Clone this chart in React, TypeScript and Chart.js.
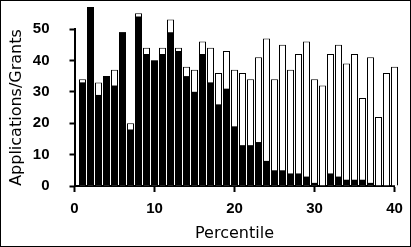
import { useEffect, useRef } from "react";
import { Chart, registerables } from "chart.js";

Chart.register(...registerables);

const percentiles = [
  1, 2, 3, 4, 5, 6, 7, 8, 9, 10, 11, 12, 13, 14, 15, 16, 17, 18, 19, 20,
  21, 22, 23, 24, 25, 26, 27, 28, 29, 30, 31, 32, 33, 34, 35, 36, 37, 38, 39, 40,
];
const applications = [
  34, 57, 33, 35, 37, 49, 20, 55, 44, 40, 44, 53, 44, 38, 37, 46, 44, 36, 43, 37,
  36, 34, 41, 47, 34, 45, 37, 42, 46, 34, 32, 42, 45, 39, 42, 28, 41, 22, 36, 38,
];
const grants = [
  33, 57, 29, 35, 32, 49, 18, 54, 42, 40, 42, 49, 43, 35, 30, 42, 33, 26, 31, 19,
  13, 13, 14, 8, 5, 5, 4, 4, 3, 1, 0, 4, 3, 2, 2, 2, 1, 0, 0, 0,
];
const xTicks = [0, 10, 20, 30, 40];
const yTicks = [0, 10, 20, 30, 40, 50];
const xTitle = "Percentile";
const yTitle = "Applications/Grants";

const framePlugin = {
  id: "frame",
  afterDraw(chart: any) {
    const ctx = chart.ctx;
    ctx.save();
    ctx.strokeStyle = "#000";
    ctx.lineWidth = 1;
    ctx.strokeRect(0.5, 0.5, chart.width - 1, chart.height - 1);
    ctx.restore();
  },
};

export default function App() {
  const ref = useRef<HTMLCanvasElement | null>(null);

  useEffect(() => {
    document.body.style.margin = "0";
    const canvas = ref.current;
    if (!canvas) return;
    const tickFont = { family: "'Liberation Sans', Arial, sans-serif", size: 15, weight: "bold" as const };
    const titleFont = { family: "'DejaVu Sans', sans-serif", size: 16, weight: "normal" as const };
    const chart = new Chart(canvas, {
      type: "bar",
      data: {
        datasets: [
          {
            label: "Grants",
            data: percentiles.map((p, i) => ({ x: p, y: grants[i] })),
            backgroundColor: "#000",
            borderColor: "#000",
            borderWidth: 0,
            inflateAmount: 0,
            barThickness: 7,
            grouped: false,
            clip: false as any,
          },
          {
            label: "Applications",
            data: percentiles.map((p, i) => ({ x: p, y: applications[i] })),
            backgroundColor: "#fff",
            borderColor: "#000",
            borderWidth: 1,
            inflateAmount: 0,
            barThickness: 7,
            grouped: false,
            clip: false as any,
          },
        ],
      },
      options: {
        animation: false,
        responsive: false,
        maintainAspectRatio: false,
        layout: { padding: { left: 0, right: 16.5, top: 26, bottom: 0 } },
        plugins: { legend: { display: false }, tooltip: { enabled: false } },
        scales: {
          x: {
            type: "linear",
            min: 0,
            max: 40,
            offset: false,
            afterFit: (s: any) => {
              s.height = 61;
            },
            afterBuildTicks: (s: any) => {
              s.ticks = xTicks.map((v) => ({ value: v }));
            },
            grid: {
              offset: false,
              drawOnChartArea: false,
              drawTicks: true,
              tickLength: 6,
              tickWidth: 2,
              tickColor: "#000",
            },
            border: { display: true, color: "#000", width: 2 },
            ticks: { color: "#000", font: tickFont, padding: 8, maxRotation: 0, autoSkip: false },
            title: { display: true, text: xTitle, color: "#000", font: titleFont, padding: { top: 0, bottom: 4 } },
          },
          y: {
            type: "linear",
            min: 0,
            max: 50,
            afterFit: (s: any) => {
              s.width = 74.5;
            },
            afterBuildTicks: (s: any) => {
              s.ticks = yTicks.map((v) => ({ value: v }));
            },
            grid: {
              drawOnChartArea: false,
              drawTicks: true,
              tickLength: 5,
              tickWidth: 2,
              tickColor: "#000",
            },
            border: { display: true, color: "#000", width: 2 },
            ticks: { color: "#000", font: tickFont, padding: 20 },
            title: { display: true, text: yTitle, color: "#000", font: titleFont, padding: { top: 7, bottom: 0 } },
          },
        },
      },
      plugins: [framePlugin],
    });
    return () => chart.destroy();
  }, []);

  return (
    <div style={{ position: "fixed", left: 0, top: 0, width: 411, height: 247, background: "#fff" }}>
      <canvas ref={ref} width={411} height={247} style={{ display: "block", width: 411, height: 247 }} />
    </div>
  );
}
